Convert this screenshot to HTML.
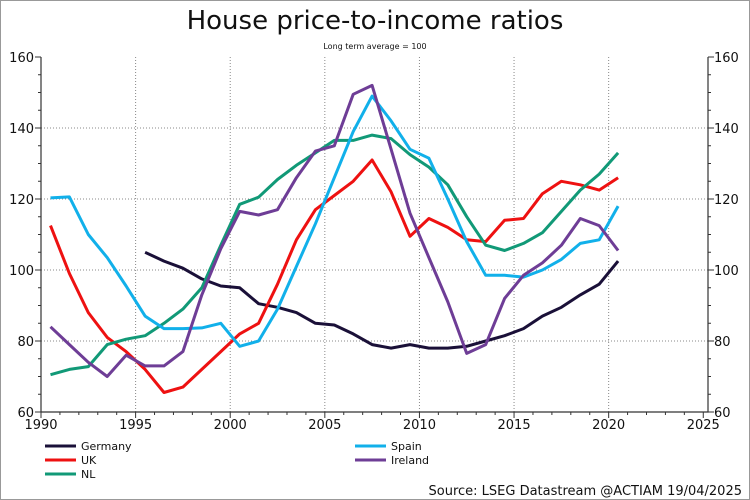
<!DOCTYPE html>
<html><head><meta charset="utf-8"><style>
body{margin:0;background:#fff}
svg{display:block;font-family:"DejaVu Sans","Liberation Sans",sans-serif}
</style></head><body>
<svg id="chart" width="750" height="500">
<rect x="0.5" y="0.5" width="749" height="499" fill="#fff" stroke="#999"/>
<text x="375" y="29" font-size="26" text-anchor="middle" fill="#111">House price-to-income ratios</text>
<text x="375" y="49" font-size="8" text-anchor="middle" fill="#111">Long term average = 100</text>
<g id="grid"></g><g id="axes"></g><g id="series"></g><g id="legend"></g>
<text x="742" y="495" font-size="13" text-anchor="end" fill="#111">Source: LSEG Datastream @ACTIAM 19/04/2025</text>
</svg>
<script>
const xTicks=[1990,1995,2000,2005,2010,2015,2020,2025];
const yTicks=[60,80,100,120,140,160];
const years=[1990.5,1991.5,1992.5,1993.5,1994.5,1995.5,1996.5,1997.5,1998.5,1999.5,2000.5,2001.5,2002.5,2003.5,2004.5,2005.5,2006.5,2007.5,2008.5,2009.5,2010.5,2011.5,2012.5,2013.5,2014.5,2015.5,2016.5,2017.5,2018.5,2019.5,2020.5];
const germanyYears=years.slice(5);
const germany=[105,102.5,100.5,97.5,95.5,95,90.5,89.5,88,85,84.5,82,79,78,79,78,78,78.5,80,81.5,83.5,87,89.5,93,96,102.5];
const uk=[112.5,99,88,81,77,72,65.5,67,72,77,82,85,96,108.5,117,121,125,131,122,109.5,114.5,112,108.5,108,114,114.5,121.5,125,124,122.5,126];
const nl=[70.5,72,72.8,79,80.5,81.5,85,89,95,107,118.5,120.5,125.5,129.5,133,136.5,136.5,138,137,132.5,129,124,115,107,105.5,107.5,110.5,116.5,122.5,127,133];
const spain=[120.3,120.6,110,103.5,95.5,87,83.5,83.5,83.7,85,78.5,80,89,101,113,126,139,149,142,134,131.5,120,108,98.5,98.5,98,100,103,107.5,108.5,118];
const ireland=[84,79,74,70,76,73,73,77,93,106,116.5,115.5,117,126,133.5,135,149.5,152,134,116,103.5,91,76.5,79,92,98.5,102,107,114.5,112.5,105.5];

const L=41,R=708,T=57,B=412;
const X0=1990,X1=2025.25,Y0=60,Y1=160;
const sx=v=>L+(v-X0)/(X1-X0)*(R-L);
const sy=v=>B-(v-Y0)/(Y1-Y0)*(B-T);
const NS="http://www.w3.org/2000/svg";
function mk(tag,attrs,parent){const e=document.createElementNS(NS,tag);for(const k in attrs)e.setAttribute(k,attrs[k]);parent.appendChild(e);return e;}
const grid=document.getElementById('grid'),axes=document.getElementById('axes'),ser=document.getElementById('series'),leg=document.getElementById('legend');

yTicks.forEach(v=>{
  if(v>Y0&&v<Y1){const g=mk('line',{x1:L,x2:R,y1:sy(v),y2:sy(v),stroke:'#888','stroke-dasharray':'1,2'},grid);
  
  }
  const t1=mk('text',{x:L-7,y:sy(v)+5,'font-size':13,'text-anchor':'end',fill:'#111'},axes);t1.textContent=v;
  
  
  const t2=mk('text',{x:R+6,y:sy(v)+5,'font-size':13,fill:'#111'},axes);t2.textContent=v;
  
  
});
xTicks.forEach(v=>{
  if(v>X0&&v<2025){const g=mk('line',{x1:sx(v),x2:sx(v),y1:T,y2:B,stroke:'#888','stroke-dasharray':'1,2'},grid);
  
  }
  const t=mk('text',{x:sx(v),y:B+17,'font-size':13,'text-anchor':'middle',fill:'#111'},axes);t.textContent=v;
  
  
});
let tk='';
for(let v=Y0;v<=Y1;v+=5){const len=v%20===0?6:3;tk+=`M${L},${sy(v)}h-${len}M${R},${sy(v)}h${len}`;}
for(let y=X0;y<=2025;y++){const len=y%5===0?6:3;tk+=`M${sx(y)},${B}v${len}`;}
const tp=mk('path',{d:tk,stroke:'#333','stroke-width':1,fill:'none'},axes);


const ab=mk('path',{d:`M${L},${T}V${B}H${R}V${T}`,stroke:'#333','stroke-width':1.2,fill:'none'},axes);



const seriesList=[
 ['germany','Germany',germanyYears,germany,'#1a1038',45,446],
 ['uk','UK',years,uk,'#ee1111',45,460],
 ['nl','NL',years,nl,'#119977',45,474],
 ['spain','Spain',years,spain,'#11b0ea',355,446],
 ['ireland','Ireland',years,ireland,'#6e3d96',355,460]];
seriesList.forEach(([id,name,xs,vals,col,lx,ly])=>{
  const d=vals.map((v,i)=>(i?'L':'M')+sx(xs[i]).toFixed(1)+','+sy(v).toFixed(1)).join('');
  const p=mk('path',{d:d,stroke:col,'stroke-width':3,fill:'none','stroke-linejoin':'round'},ser);
  
  
  const ll=mk('line',{x1:lx,x2:lx+31,y1:ly,y2:ly,stroke:col,'stroke-width':3},leg);
  
  
  const lt=mk('text',{x:lx+36,y:ly+4,'font-size':11,fill:'#111'},leg);lt.textContent=name;
  
  
});
</script>
</body></html>
